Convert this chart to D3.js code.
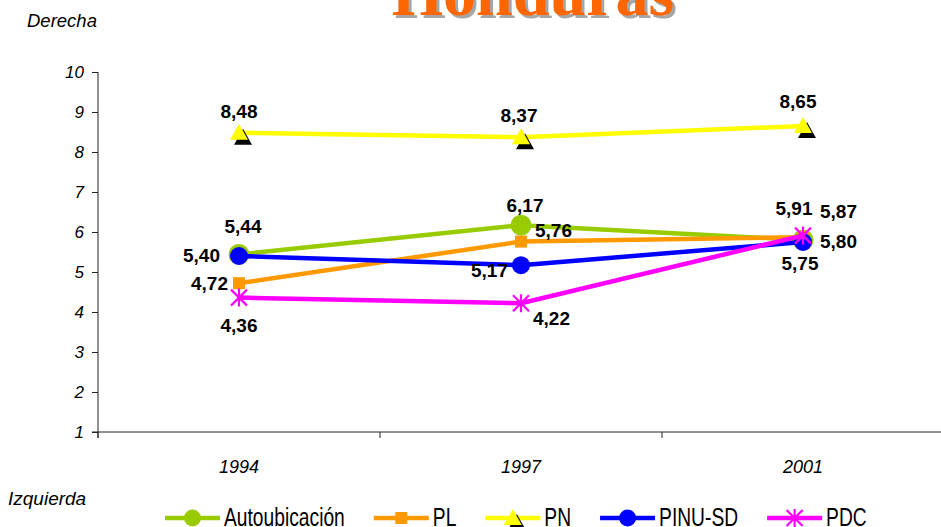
<!DOCTYPE html>
<html>
<head>
<meta charset="utf-8">
<script src="https://cdn.jsdelivr.net/npm/d3@7"></script>
<style>
  html, body { margin: 0; padding: 0; background: #fff; }
  svg { display: block; }
  text { font-family: "Liberation Sans", Arial, sans-serif; }
</style>
</head>
<body>
<svg width="941" height="527"></svg>
<script>
// data
var years = ["1994", "1997", "2001"];
var yTicks = [1, 2, 3, 4, 5, 6, 7, 8, 9, 10];
var seriesNames = ["Autoubicación", "PL", "PN", "PINU-SD", "PDC"];
var autoubicacion = [5.44, 6.17, 5.80];
var pl = [4.72, 5.76, 5.87];
var pn = [8.48, 8.37, 8.65];
var pinu = [5.40, 5.17, 5.75];
var pdc = [4.36, 4.22, 5.91];

var svg = d3.select("svg"),
    width = +svg.attr("width"),
    height = +svg.attr("height");

var x = d3.scaleBand().domain(years).range([98, 944]);
var y = d3.scaleLinear().domain([1, 10]).range([432, 72]);

// look of each series, and where its value labels sit (dx, dy, anchor) per year
var styles = [
  { color: "#99CC00", marker: "circle", r: 10.5,
    labels: [[4, -21, "middle"], [4, -13, "middle"], [17, 8, "start"]] },
  { color: "#FF9900", marker: "square",
    labels: [[-11, 7, "end"], [14, -5, "start"], [17, -19, "start"]] },
  { color: "#FFFF00", marker: "triangle",
    labels: [[0, -15, "middle"], [-2, -15, "middle"], [-5, -18, "middle"]] },
  { color: "#0000FF", marker: "circle", r: 9,
    labels: [[-19, 6, "end"], [-13, 12, "end"], [-3, 28, "middle"]] },
  { color: "#FF00FF", marker: "star",
    labels: [[0, 34, "middle"], [12, 22, "start"], [-9, -21, "middle"]] }
];
var values = [autoubicacion, pl, pn, pinu, pdc];

var series = seriesNames.map(function(name, i) {
  return { name: name, values: values[i], style: styles[i] };
});

// title, cut off at the top like the original
var title = svg.append("g").attr("class", "title");
title.append("text")
    .attr("x", 536).attr("y", 18)
    .attr("text-anchor", "middle")
    .style("font-family", "'Liberation Serif', 'Times New Roman', serif")
    .style("font-weight", "bold")
    .style("font-size", "66px")
    .style("fill", "#A6A6A6")
    .text("Honduras");
title.append("text")
    .attr("x", 533).attr("y", 15)
    .attr("text-anchor", "middle")
    .style("font-family", "'Liberation Serif', 'Times New Roman', serif")
    .style("font-weight", "bold")
    .style("font-size", "66px")
    .style("fill", "#FF6600")
    .text("Honduras");

svg.append("text")
    .attr("x", 27).attr("y", 27)
    .style("font-style", "italic")
    .style("font-size", "18.5px")
    .text("Derecha");

svg.append("text")
    .attr("x", 8).attr("y", 505)
    .style("font-style", "italic")
    .style("font-size", "19px")
    .text("Izquierda");

// y axis
var yAxis = svg.append("g")
    .attr("transform", "translate(98,0)")
    .call(d3.axisLeft(y).tickValues(yTicks).tickSize(6).tickPadding(8)
          .tickFormat(d3.format("d")));
yAxis.select(".domain").attr("d", "M0," + y(10) + "V" + (y(1) + 6));
yAxis.selectAll("line, path").attr("stroke", "#222");
yAxis.selectAll("text")
    .style("font-family", "'Liberation Sans', Arial, sans-serif")
    .style("font-style", "italic")
    .style("font-size", "17px")
    .attr("fill", "#000");

// x axis: labels centred in each band, ticks on the band edges
var xAxis = svg.append("g")
    .attr("transform", "translate(0," + y(1) + ")")
    .call(d3.axisBottom(x).tickSize(0).tickPadding(28));
xAxis.select(".domain").attr("d", "M92,0H941").attr("stroke", "#222");
xAxis.selectAll("text")
    .style("font-family", "'Liberation Sans', Arial, sans-serif")
    .style("font-style", "italic")
    .style("font-size", "18px")
    .attr("fill", "#000");
xAxis.selectAll(".edge")
    .data(years.map(function(d) { return x(d); }).concat([x.range()[1]]))
    .enter().append("line")
    .attr("class", "edge")
    .attr("x1", function(d) { return d; })
    .attr("x2", function(d) { return d; })
    .attr("y1", 0).attr("y2", 6)
    .attr("stroke", "#222");

function px(i) { return x(years[i]) + x.bandwidth() / 2; }

function drawMarker(g, type, s) {
  if (type == "circle") {
    g.append("circle").attr("r", s.r).attr("fill", s.color);
  } else if (type == "square") {
    g.append("rect").attr("x", -6).attr("y", -6).attr("width", 12).attr("height", 12)
        .attr("fill", s.color);
  } else if (type == "triangle") {
    g.append("path").attr("d", "M4,-4L-5,12L13,12Z").attr("fill", "#000");
    g.append("path").attr("d", "M0,-9L-9,7L9,7Z").attr("fill", s.color);
  } else if (type == "star") {
    g.append("path").attr("d", "M0,-9V9M-8,-8L8,8M-8,8L8,-8")
        .attr("stroke", s.color).attr("stroke-width", 2.2).attr("fill", "none");
  }
}

var line = d3.line()
    .x(function(d, i) { return px(i); })
    .y(function(d) { return y(d); });

var plot = svg.append("g").attr("class", "plot");

series.forEach(function(s) {
  var g = plot.append("g");
  g.append("path")
      .attr("d", line(s.values))
      .attr("fill", "none")
      .attr("stroke", s.style.color)
      .attr("stroke-width", 4.5)
      .attr("stroke-linejoin", "round");
  s.values.forEach(function(v, i) {
    var m = g.append("g").attr("transform", "translate(" + px(i) + "," + y(v) + ")");
    drawMarker(m, s.style.marker, s.style);
  });
});

// value labels on top
var fmt = function(v) { return d3.format(".2f")(v).replace(".", ","); };
series.forEach(function(s) {
  s.values.forEach(function(v, i) {
    var l = s.style.labels[i];
    svg.append("text")
        .attr("x", px(i) + l[0])
        .attr("y", y(v) + l[1])
        .attr("text-anchor", l[2])
        .style("font-weight", "bold")
        .style("font-size", "19px")
        .text(fmt(v));
  });
});

// legend
var legend = svg.append("g").attr("class", "legend");
var lx = 165, ly = 518, sx = 0.74;
series.forEach(function(s) {
  var item = legend.append("g").attr("transform", "translate(" + lx + "," + ly + ")");
  item.append("line")
      .attr("x1", 0).attr("x2", 55).attr("y1", 0).attr("y2", 0)
      .attr("stroke", s.style.color).attr("stroke-width", 4.5);
  var m = item.append("g").attr("transform", "translate(27.5,0)");
  drawMarker(m, s.style.marker, s.style.marker == "circle" ? { color: s.style.color, r: 8.5 } : s.style);
  var t = item.append("text")
      .attr("transform", "translate(59,8) scale(" + sx + ",1)")
      .style("font-size", "26px")
      .text(s.name);
  lx += 59 + t.node().getComputedTextLength() * sx + 29;
});
</script>
</body>
</html>
